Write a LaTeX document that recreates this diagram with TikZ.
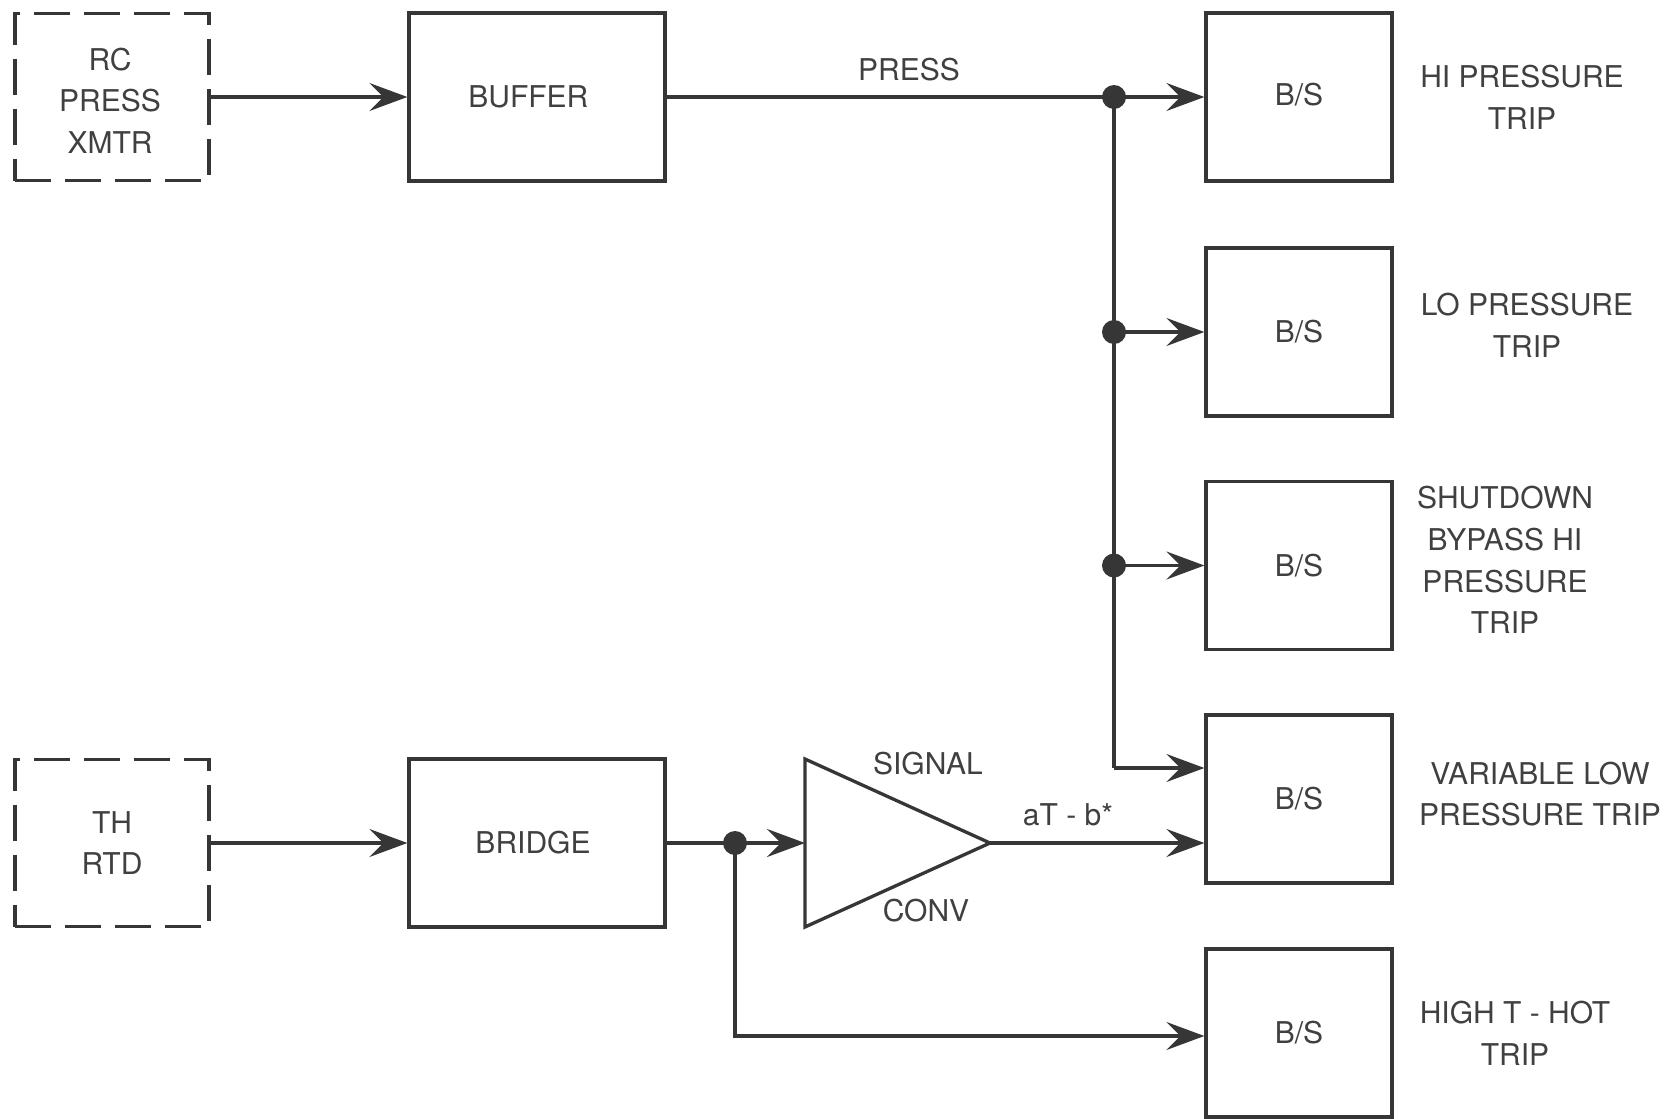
\documentclass[tikz,border=0pt]{standalone}
\usepackage{fontspec}
\setmainfont{TeX Gyre Heros}
\usetikzlibrary{arrows.meta}
\definecolor{ink}{HTML}{363636}
\definecolor{txt}{HTML}{404040}
\begin{document}
\begin{tikzpicture}[x=0.5pt,y=-0.5pt,
  lbl/.style={text=txt, font=\fontsize{15}{20.8}\selectfont, align=center, inner sep=0pt},
  blk/.style={lbl, draw=ink, line width=1.65pt, minimum width=128pt, minimum height=84pt},
  srcbox/.style={blk, dash pattern=on 18pt off 7pt, minimum width=97pt, minimum height=83.5pt},
  bsbox/.style={blk, minimum width=93pt},
  wire/.style={draw=ink, line width=1.65pt},
  arr/.style={wire, -{Stealth[length=19pt, width=14pt, inset=7pt]}},
  dot/.style={circle, fill=ink, inner sep=0pt, minimum size=12pt}]
\path[use as bounding box, fill=white] (0,0) rectangle (1678,1119);

% source boxes
\node[srcbox] (rc) at (112,97) {};
\node[lbl] (rctext) at (110,100.5) {RC\\PRESS\\XMTR};
\node[srcbox] (th) at (112,843) {TH\\RTD};
% processing boxes
\node[blk] (buffer) at (537,97) {\hspace*{-8.6pt}BUFFER};
\node[blk] (bridge) at (537,843) {\hspace*{-4pt}BRIDGE};
% B/S boxes
\node[bsbox] (bs1) at (1299,97) {\raisebox{3.2pt}{B/S}};
\node[bsbox] (bs2) at (1299,332) {B/S};
\node[bsbox] (bs3) at (1299,565.5) {B/S};
\node[bsbox] (bs4) at (1299,799) {B/S};
\node[bsbox] (bs5) at (1299,1033) {B/S};
% right labels
\node[lbl] (t1) at (1522,97.5) {HI PRESSURE\\TRIP};
\node[lbl] (t2) at (1527,325) {LO PRESSURE\\TRIP};
\node[lbl] (t3) at (1505,560) {SHUTDOWN\\BYPASS HI\\PRESSURE\\TRIP};
\node[lbl] (t4) at (1540,794) {VARIABLE LOW\\PRESSURE TRIP};
\node[lbl] (t5) at (1515,1033) {HIGH T - HOT\\TRIP};
% junctions
\node[dot] (j1) at (1114,97) {};
\node[dot] (j2) at (1114,332) {};
\node[dot] (j3) at (1114,565.5) {};
\node[dot] (jb) at (735,843) {};
\coordinate (c4) at (1114,768);
\coordinate (c5) at (735,1036);
% amplifier
\coordinate (ampin) at (805,843);
\coordinate (ampout) at (990,843);
\draw[wire, line join=miter] (805,759) -- (ampout) -- (805,927) -- cycle;
\node[lbl] (sig) at (928,764) {SIGNAL};
\node[lbl] (conv) at (926,911) {CONV};
\node[lbl] (press) at (909,70) {PRESS};
\node[lbl] (atb) at (1068,815) {aT - b*};

% connectors
\draw[arr] (rc.east) -- (buffer.west);
\draw[arr] (th.east) -- (bridge.west);
\draw[arr] (buffer.east) -- (bs1.west);
\draw[wire] (j1.center) -- (c4);
\draw[arr] (j2.center) -- (bs2.west);
\draw[arr] (j3.center) -- (bs3.west);
\draw[arr] (c4) -- (c4 -| bs4.west);
\draw[wire] (bridge.east) -- (jb.center);
\draw[arr] (jb.center) -- (ampin);
\draw[arr] (ampout) -- (ampout -| bs4.west);
\draw[arr] (jb.center) -- (c5) -- (c5 -| bs5.west);
\end{tikzpicture}
\end{document}
